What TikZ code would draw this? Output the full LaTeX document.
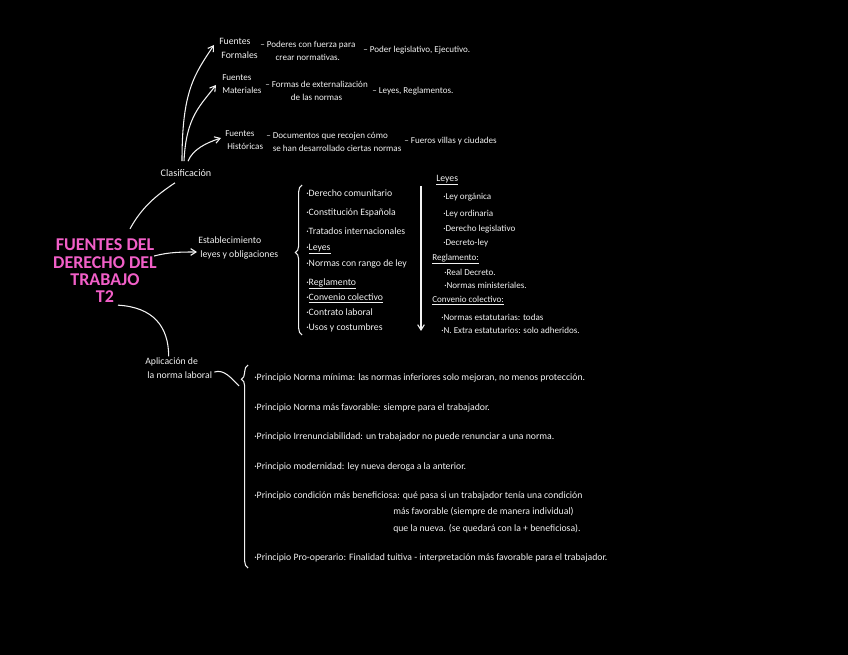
\documentclass[tikz,border=0pt]{standalone}
\usepackage{fontspec}
\setmainfont{Carlito}
\usetikzlibrary{arrows.meta,decorations.pathreplacing}
\definecolor{chalk}{HTML}{F2F2F2}
\definecolor{notepink}{HTML}{F25FC8}
\definecolor{board}{HTML}{000000}

\begin{document}
\begin{tikzpicture}[
  x=0.75pt,y=-0.75pt,
  every node/.style={font=\fontsize{6.8}{10}\selectfont,text=chalk,inner sep=0pt},
  note/.style={anchor=west,align=left},
  big/.style={font=\fontsize{7.3}{10.5}\selectfont},
  def/.style={anchor=west,align=center},
  titlebox/.style={align=center,text=notepink,font=\fontsize{13.5}{13}\selectfont\bfseries},
  arr/.style={-{Straight Barb[length=4pt,width=5pt]},line width=0.8pt,draw=chalk},
  link/.style={line width=0.8pt,draw=chalk},
  bracket/.style={decorate,decoration={brace,amplitude=5pt,aspect=#1},line width=0.8pt,draw=chalk}
]
\fill[board] (0,0) rectangle (848,655);
\useasboundingbox (0,0) rectangle (848,655);

% tema
\node[titlebox] (title) at (105,271) {FUENTES DEL\\DERECHO DEL\\TRABAJO\\T2};

% clasificacion
\node[font=\fontsize{7.6}{10}\selectfont] (clasif) at (186,173) {Clasificación};
\node[note,big] (formales) at (219,48) {Fuentes\\\ Formales};
\node[def] (formalesdef) at (260,51) {– Poderes con fuerza para\\crear normativas.};
\node[note] (formalesej) at (363,50) {– Poder legislativo, Ejecutivo.};
\node[note] (materiales) at (222,84) {Fuentes\\Materiales};
\node[def] (materialesdef) at (265,91) {– Formas de externalización\\de las normas};
\node[note] (materialesej) at (372,91) {– Leyes, Reglamentos.};
\node[note] (historicas) at (225,140) {Fuentes\\\ Históricas};
\node[note] (historicasdef) at (266,142) {– Documentos que recojen cómo\\\hphantom{– }se han desarrollado ciertas normas};
\node[note] (historicasej) at (404,141) {– Fueros villas y ciudades};

% establecimiento
\node[note,big] (estab) at (198,248) {Establecimiento\\\ leyes y obligaciones};
\coordinate (brace1top) at (302,185);
\coordinate (brace1bot) at (302,335);
\node[note,big] (l1) at (306,193) {·Derecho comunitario};
\node[note,big] (l2) at (306,213) {·Constitución Española};
\node[note,big] (l3) at (306,231) {·Tratados internacionales};
\node[note,big] (l4) at (306,249) {·\underline{Leyes}};
\node[note,big] (l5) at (306,264) {·Normas con rango de ley};
\node[note,big] (l6) at (306,284) {·\underline{Reglamento}};
\node[note,big] (l7) at (306,298) {·\underline{Convenio colectivo}};
\node[note,big] (l8) at (306,312) {·Contrato laboral};
\node[note,big] (l9) at (306,328) {·Usos y costumbres};
\coordinate (ordtop) at (421,186);
\coordinate (ordbot) at (421,331);

\node[note,big] (leyes) at (436,180) {\underline{Leyes}};
\node[note] (ley1) at (443,197) {·Ley orgánica};
\node[note] (ley2) at (443,214) {·Ley ordinaria};
\node[note] (ley3) at (443,229) {·Derecho legislativo};
\node[note] (ley4) at (443,243) {·Decreto-ley};
\node[note] (regl) at (432,259) {\underline{Reglamento:}};
\node[note] (regl1) at (444,272) {·Real Decreto.};
\node[note] (regl2) at (444,285) {·Normas ministeriales.};
\node[note] (conv) at (432,301) {\underline{Convenio colectivo:}};
\node[note] (conv1) at (441,317) {·Normas estatutarias: todas};
\node[note] (conv2) at (441,330) {·N. Extra estatutarios: solo adheridos.};

% aplicacion
\node[note,big] (aplic) at (145,368) {Aplicación de\\\ la norma laboral};
\coordinate (brace2top) at (248,365);
\coordinate (brace2bot) at (248,568);
\coordinate (tip2) at (239,386);
\node[note,big] (p1) at (254,378) {·Principio Norma mínima: las normas inferiores solo mejoran, no menos protección.};
\node[note,big] (p2) at (254,408) {·Principio Norma más favorable: siempre para el trabajador.};
\node[note,big] (p3) at (254,437) {·Principio Irrenunciabilidad: un trabajador no puede renunciar a una norma.};
\node[note,big] (p4) at (254,467) {·Principio modernidad: ley nueva deroga a la anterior.};
\node[note,big] (p5) at (254,496) {·Principio condición más beneficiosa: qué pasa si un trabajador tenía una condición};
\node[note,big] (p5b) at (393,512) {más favorable (siempre de manera individual)};
\node[note,big] (p5c) at (393,529) {que la nueva. (se quedará con la + beneficiosa).};
\node[note,big] (p6) at (254,558) {·Principio Pro-operario: Finalidad tuitiva - interpretación más favorable para el trabajador.};

% conectores
\draw[link] ([shift={(25,-10)}]title.north) .. controls +(12,-22) and +(-18,12) .. ([shift={(-11,6)}]clasif.south);
\draw[arr] ([shift={(-4,-8)}]clasif.north) .. controls +(0,-70) and +(-20,30) .. ([shift={(-5,-3)}]formales.west);
\draw[arr] ([shift={(-2,-8)}]clasif.north) .. controls +(2,-45) and +(-15,20) .. ([shift={(-6,1)}]materiales.west);
\draw[arr] ([shift={(2,-8)}]clasif.north) .. controls +(5,-12) and +(-15,5) .. ([shift={(-4,-2)}]historicas.west);
\draw[arr] ([shift={(-3,-15)}]title.east) .. controls +(15,-4) and +(-15,0) .. ([shift={(-1,4)}]estab.west);
\draw[link] ([shift={(13,2)}]title.south) .. controls +(35,2) and +(0,-30) .. ([shift={(-10,-1)}]aplic.north);
\draw[link] ([shift={(2,4)}]aplic.east) .. controls +(10,-3) and +(-8,-8) .. (tip2);
\draw[bracket=0.55] (brace1bot) -- (brace1top);
\draw[bracket=0.93] (brace2bot) -- (brace2top);
\draw[arr] (ordtop) -- (ordbot);
\end{tikzpicture}
\end{document}
